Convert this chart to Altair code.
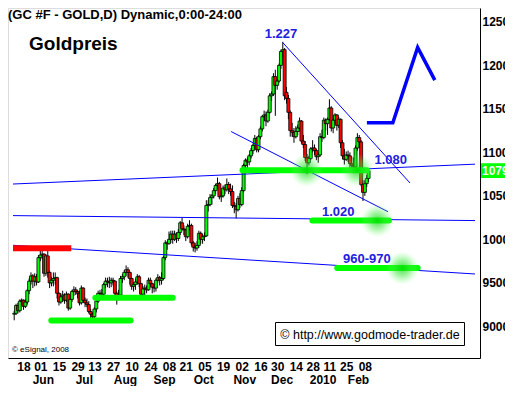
import altair as alt
import pandas as pd

# ---------------- trading calendar (GC daily bars) ----------------
holidays = ["2009-05-25", "2009-07-03", "2009-09-07", "2009-11-26",
            "2009-12-25", "2010-01-01", "2010-01-18"]
date_str = [d.strftime("%Y-%m-%d") for d in pd.bdate_range("2009-05-11", "2010-02-10")
            if d.strftime("%Y-%m-%d") not in holidays]

# ---------------- OHLC (chart units = USD x 10) ----------------
opens = [
    9140, 9150, 9240, 9180, 9290, 9300, 9230, 9280, 9410, 9520, 9580, 9520, 9570, 9510,
    9790, 9820, 9830, 9610, 9810, 9620, 9500, 9530, 9550, 9560, 9380, 9280, 9340, 9360, 9300, 9370, 9210, 9310, 9400, 9420, 9400, 9380,
    9270, 9440, 9300, 9270, 9250, 9170, 9140, 9110, 9200, 9290, 9380, 9380, 9370, 9480, 9520, 9510, 9500, 9530, 9520, 9380, 9340, 9360,
    9550, 9570, 9620, 9650, 9620, 9550, 9460, 9480, 9510, 9570, 9490, 9370, 9430, 9440, 9420, 9530, 9490, 9450, 9440, 9530, 9560,
    9530, 9550, 9790, 9960, 9950, 10000, 10060, 10000, 10060, 10010, 10080, 10190, 10120, 10110, 10030, 10150, 10160, 9960, 9910, 9900, 9930,
    10070, 10000, 10030, 10040, 10390, 10400, 10480, 10500, 10560, 10620, 10640, 10490, 10500, 10590, 10570, 10630, 10580, 10550, 10390, 10380, 10340, 10470,
    10400, 10560, 10850, 10910, 10890, 10960, 11020, 11080, 11160, 11030, 11180, 11270, 11410, 11430, 11360, 11460, 11650, 11670, 11870, 11770,
    11820, 12000, 12160, 12180, 11690, 11620, 11460, 11250, 11230, 11180, 11240, 11280, 11360, 11130, 11090, 10940, 10880, 10930, 11040, 11050, 11020, 10950,
    10970, 11180, 11170, 11370, 11330, 11380, 11510, 11280, 11370, 11430, 11310, 11380, 11110, 10960, 10920, 10970, 10960, 10870, 10850,
    10830, 11050, 11170, 11120, 10630, 10540, 10640, 10700,
]
highs = [
    9180, 9260, 9270, 9310, 9320, 9310, 9310, 9430, 9550, 9620, 9600, 9610, 9600, 9820,
    9900, 9910, 9840, 9830, 9890, 9640, 9570, 9620, 9620, 9570, 9390, 9380, 9410, 9380, 9400, 9380, 9330, 9420, 9460, 9450, 9420, 9410,
    9470, 9450, 9330, 9320, 9290, 9200, 9160, 9220, 9320, 9410, 9420, 9430, 9500, 9560, 9560, 9570, 9560, 9560, 9530, 9400, 9420, 9580,
    9600, 9650, 9700, 9680, 9630, 9560, 9510, 9550, 9600, 9590, 9500, 9460, 9480, 9470, 9560, 9560, 9500, 9490, 9550, 9600, 9580,
    9620, 9810, 9990, 9980, 10090, 10100, 10100, 10100, 10080, 10120, 10210, 10250, 10160, 10120, 10180, 10220, 10180, 9980, 9960, 9980, 10100,
    10090, 10060, 10080, 10450, 10450, 10520, 10520, 10590, 10640, 10710, 10660, 10550, 10620, 10630, 10700, 10660, 10640, 10620, 10430, 10420, 10500, 10530,
    10600, 10870, 10930, 10940, 10980, 11050, 11100, 11200, 11180, 11200, 11300, 11430, 11480, 11470, 11490, 11680, 11700, 11910, 11950, 11840,
    12020, 12180, 12270, 12200, 11750, 11660, 11480, 11340, 11280, 11300, 11320, 11400, 11370, 11200, 11130, 10980, 10960, 11060, 11140, 11090, 11040, 11000,
    11220, 11260, 11400, 11390, 11400, 11610, 11530, 11390, 11450, 11440, 11410, 11390, 11140, 11040, 11010, 11020, 11000, 10950, 10940,
    11080, 11220, 11200, 11140, 10680, 10680, 10740, 10820,
]
lows = [
    9070, 9130, 9150, 9160, 9240, 9190, 9210, 9250, 9370, 9480, 9440, 9460, 9470, 9500,
    9750, 9770, 9570, 9580, 9560, 9440, 9460, 9460, 9480, 9320, 9240, 9260, 9280, 9260, 9280, 9180, 9190, 9280, 9350, 9360, 9320, 9240,
    9250, 9270, 9220, 9220, 9150, 9060, 9050, 9060, 9160, 9270, 9320, 9330, 9360, 9440, 9450, 9440, 9450, 9470, 9310, 9250, 9300, 9350,
    9500, 9530, 9580, 9560, 9480, 9420, 9400, 9420, 9480, 9450, 9320, 9350, 9360, 9380, 9410, 9450, 9380, 9390, 9400, 9500, 9470,
    9480, 9530, 9760, 9880, 9940, 9960, 9950, 9980, 9960, 9980, 10050, 10100, 10050, 9980, 10010, 10100, 9930, 9860, 9850, 9870, 9900,
    9950, 9950, 9980, 10030, 10320, 10380, 10400, 10470, 10520, 10580, 10460, 10430, 10480, 10520, 10550, 10520, 10500, 10360, 10300, 10240, 10320, 10360,
    10380, 10540, 10790, 10820, 10850, 10930, 10980, 11040, 11000, 11000, 11150, 11240, 11360, 11300, 11340, 11440, 11590, 11650, 11420, 11720,
    11800, 11960, 12100, 11600, 11560, 11380, 11180, 11180, 11110, 11160, 11200, 11240, 11100, 11050, 10900, 10750, 10850, 10910, 11000, 10970, 10910, 10880,
    10950, 11120, 11150, 11250, 11200, 11360, 11240, 11220, 11330, 11250, 11280, 11050, 10920, 10860, 10900, 10890, 10820, 10800, 10760,
    10810, 11020, 11050, 10610, 10440, 10500, 10600, 10660,
]
closes = [
    9150, 9240, 9180, 9290, 9300, 9230, 9280, 9410, 9520, 9580, 9520, 9570, 9510, 9790,
    9820, 9830, 9610, 9810, 9620, 9500, 9530, 9550, 9560, 9380, 9280, 9340, 9360, 9300, 9370, 9210, 9310, 9400, 9420, 9400, 9380, 9270,
    9440, 9300, 9270, 9250, 9170, 9140, 9110, 9200, 9290, 9380, 9380, 9370, 9480, 9520, 9510, 9500, 9530, 9520, 9380, 9340, 9360, 9550,
    9570, 9620, 9650, 9620, 9550, 9460, 9480, 9510, 9570, 9490, 9370, 9430, 9440, 9420, 9530, 9490, 9450, 9440, 9530, 9560, 9530,
    9550, 9790, 9960, 9950, 10000, 10060, 10000, 10060, 10010, 10080, 10190, 10120, 10110, 10030, 10150, 10160, 9960, 9910, 9900, 9930, 10070,
    10000, 10030, 10040, 10390, 10400, 10480, 10500, 10560, 10620, 10640, 10490, 10500, 10590, 10570, 10630, 10580, 10550, 10390, 10380, 10340, 10470, 10400,
    10560, 10850, 10910, 10890, 10960, 11020, 11080, 11160, 11030, 11180, 11270, 11410, 11430, 11360, 11460, 11650, 11670, 11870, 11770, 11820,
    12000, 12160, 12180, 11650, 11620, 11460, 11250, 11230, 11180, 11240, 11280, 11360, 11130, 11090, 10940, 10880, 10930, 11040, 11050, 11020, 10950, 10970,
    11180, 11170, 11370, 11330, 11380, 11510, 11280, 11370, 11430, 11310, 11380, 11110, 10960, 10920, 10970, 10960, 10870, 10850, 10830,
    11050, 11170, 11120, 10630, 10540, 10640, 10700, 10790,
]
n = min(len(date_str), len(opens), len(highs), len(lows), len(closes))
candles = pd.DataFrame({
    "i": list(range(n)), "date": date_str[:n], "open": opens[:n], "high": highs[:n],
    "low": lows[:n], "close": closes[:n],
})
candles["dir"] = ["up" if c >= o else "down" for o, c in zip(candles["open"], candles["close"])]

# ---------------- axis labels ----------------
tick_dates = ["2009-05-18", "2009-06-01", "2009-06-15", "2009-06-29", "2009-07-13", "2009-07-27",
              "2009-08-10", "2009-08-24", "2009-09-08", "2009-09-21", "2009-10-05", "2009-10-19",
              "2009-11-02", "2009-11-16", "2009-11-30", "2009-12-14", "2009-12-28", "2010-01-11",
              "2010-01-25", "2010-02-08"]
tick_idx = [date_str.index(t) for t in tick_dates]
tick_lab = [t[8:10] for t in tick_dates]
label_expr = ("[" + ",".join("'%s'" % l for l in tick_lab) + "][indexof(["
              + ",".join(str(v) for v in tick_idx) + "], datum.value)]")

month_keys = ["2009-06", "2009-07", "2009-08", "2009-09", "2009-10", "2009-11", "2009-12", "2010-01", "2010-02"]
month_names = ["Jun", "Jul", "Aug", "Sep", "Oct", "Nov", "Dec", "2010", "Feb"]
month_idx = [next(k for k, d in enumerate(date_str) if d.startswith(m)) for m in month_keys]
months = pd.DataFrame({"i": month_idx, "m": month_names})

price_ticks = [9000, 9500, 10000, 10500, 11000, 11500, 12000, 12500]

# ---------------- drawn annotations (bar number, price) ----------------
line_x1 = [144.0, 116.3, -0.64, -0.64, -0.64]
line_y1 = [12261, 11239, 10636, 10273, 9932]
line_x2 = [212.2, 200.4, 247.05, 247.05, 247.05]
line_y2 = [10648, 10318, 10864, 10216, 9602]
lines = pd.DataFrame({"x1": line_x1, "y1": line_y1, "x2": line_x2, "y2": line_y2})

sup_x1 = [19.9, 43.5, 122.4, 159.9, 173.2]
sup_x2 = [62.4, 85.0, 189.1, 200.9, 216.3]
sup_y = [9068, 9330, 10795, 10216, 9670]
supports = pd.DataFrame({"x1": sup_x1, "x2": sup_x2, "y": sup_y})

res_x1 = [-0.64]
res_x2 = [30.6]
res_y = [9898]
resist = pd.DataFrame({"x1": res_x1, "x2": res_x2, "y": res_y})

glow_x = [156.8, 184.0, 194.7, 208.1]
glow_y = [10795, 10795, 10216, 9670]
glows = pd.DataFrame({"x": glow_x, "y": glow_y})

proj_x = [189.1, 203.0, 216.3, 225.5]
proj_y = [11341, 11341, 12205, 11830]
proj = pd.DataFrame({"x": proj_x, "y": proj_y, "k": [0, 1, 2, 3]})

lab_text = ["1.227", "1.080", "1.020", "960-970"]
lab_x = [143.0, 201.9, 173.7, 189.1]
lab_y = [12364, 10909, 10318, 9773]
labels = pd.DataFrame({"x": lab_x, "y": lab_y, "t": lab_text})

last = pd.DataFrame({"lo": [closes[n - 1] - 85], "hi": [closes[n - 1] + 85], "p": [closes[n - 1]],
                     "t": [str(closes[n - 1])]})

# ---------------- chart ----------------
FONT = "Liberation Sans"
W, H = 472, 350
xs = alt.Scale(domain=[-0.64, 247.05], nice=False, zero=False)
ys = alt.Scale(domain=[8636.4, 12659.1], nice=False, zero=False)

x_axis = alt.Axis(values=tick_idx, labelExpr=label_expr, title=None, ticks=False, tickSize=0,
                  grid=False, domainColor="black", domainWidth=1, labelFont=FONT,
                  labelFontWeight="bold", labelFontSize=12, labelColor="black", labelPadding=3,
                  labelOverlap=False, labelFlush=False, labelBound=False)
y_axis = alt.Axis(orient="right", values=price_ticks, format="d", title=None, ticks=False,
                  tickSize=0, grid=False, domainColor="black", domainWidth=1, labelAlign="left",
                  labelPadding=2, labelFont=FONT, labelFontWeight="bold", labelFontSize=12,
                  labelColor="black", labelOverlap=False, labelFlush=False, labelBound=False)


def X(field):
    return alt.X(field, scale=xs, axis=x_axis)


def Y(field):
    return alt.Y(field, scale=ys, axis=y_axis)


wicks = alt.Chart(candles).mark_rule(color="black", strokeWidth=1).encode(
    x=X("i:Q"), y=Y("low:Q"), y2="high:Q",
)
bodies = alt.Chart(candles).mark_bar(size=3, stroke="black", strokeWidth=0.8).encode(
    x=X("i:Q"), y=Y("open:Q"), y2="close:Q",
    color=alt.Color("dir:N", scale=alt.Scale(domain=["up", "down"], range=["#00ff00", "#ff0000"]),
                    legend=None),
)
blue_lines = alt.Chart(lines).mark_rule(color="#0000ff", strokeWidth=1).encode(
    x=X("x1:Q"), x2="x2:Q", y=Y("y1:Q"), y2="y2:Q",
)
green_bars = alt.Chart(supports).mark_rule(color="#00ff00", strokeWidth=6, strokeCap="round").encode(
    x=X("x1:Q"), x2="x2:Q", y=Y("y:Q"),
)
red_bar = alt.Chart(resist).mark_rule(color="#ff0000", strokeWidth=6).encode(
    x=X("x1:Q"), x2="x2:Q", y=Y("y:Q"),
)
glow_fill = alt.RadialGradient(
    gradient="radial",
    stops=[alt.GradientStop(color="rgba(0,215,0,0.75)", offset=0),
           alt.GradientStop(color="rgba(60,230,60,0.45)", offset=0.5),
           alt.GradientStop(color="rgba(120,255,120,0)", offset=1)],
)
glow = alt.Chart(glows).mark_circle(size=1100, fill=glow_fill, opacity=1, strokeWidth=0).encode(
    x=X("x:Q"), y=Y("y:Q"),
)
projection = alt.Chart(proj).mark_line(color="#0000ff", strokeWidth=3.5).encode(
    x=X("x:Q"), y=Y("y:Q"), order="k:Q",
)
ann_text = alt.Chart(labels).mark_text(font=FONT, fontSize=13, fontWeight="bold",
                                       color="#2020e0").encode(
    x=X("x:Q"), y=Y("y:Q"), text="t:N",
)
month_text = alt.Chart(months).mark_text(font=FONT, fontSize=12, fontWeight="bold", color="black",
                                         dx=3).encode(
    x=X("i:Q"), y=alt.value(372), text="m:N",
)
last_box = alt.Chart(last).mark_rect(color="#00ff00").encode(
    x=alt.value(473), x2=alt.value(500), y=Y("lo:Q"), y2="hi:Q",
)
last_text = alt.Chart(last).mark_text(font=FONT, fontSize=12, fontWeight="bold", color="white",
                                      align="left").encode(
    x=alt.value(474), y=Y("p:Q"), text="t:N",
)

one = pd.DataFrame({"t": ["(GC #F - GOLD,D) Dynamic,0:00-24:00"]})
title_t = alt.Chart(one).mark_text(font=FONT, fontSize=13, fontWeight="bold", color="black",
                                   align="left", baseline="middle").encode(
    x=alt.value(0), y=alt.value(7), text="t:N")
gold = pd.DataFrame({"t": ["Goldpreis"]})
gold_t = alt.Chart(gold).mark_text(font=FONT, fontSize=19, fontWeight="bold", color="black",
                                   align="left", baseline="middle").encode(
    x=alt.value(21), y=alt.value(36), text="t:N")
esig = pd.DataFrame({"t": ["© eSignal, 2008"]})
esig_t = alt.Chart(esig).mark_text(font=FONT, fontSize=8, color="black", align="left",
                                   baseline="middle").encode(
    x=alt.value(4), y=alt.value(342), text="t:N")
copy_box = alt.Chart(one).mark_rect(fill="white", stroke="black", strokeWidth=1).encode(
    x=alt.value(267.5), x2=alt.value(456.5), y=alt.value(314.5), y2=alt.value(337.5))
copy = pd.DataFrame({"t": ["© http://www.godmode-trader.de"]})
copy_t = alt.Chart(copy).mark_text(font=FONT, fontSize=12.5, color="black",
                                   baseline="middle").encode(
    x=alt.value(362), y=alt.value(326.5), text="t:N")

chart = alt.layer(
    wicks, bodies, blue_lines, red_bar, green_bars, glow, projection, ann_text, month_text,
    last_box, last_text, title_t, gold_t, esig_t, copy_box, copy_t,
).properties(
    width=W, height=H,
    autosize=alt.AutoSizeParams(type="none"),
    padding={"left": 0, "top": 0, "right": 25, "bottom": 28},
    background="white",
).configure_view(strokeWidth=0).configure(font=FONT)

chart.save("out.html", embed_options={"renderer": "svg", "actions": False})
